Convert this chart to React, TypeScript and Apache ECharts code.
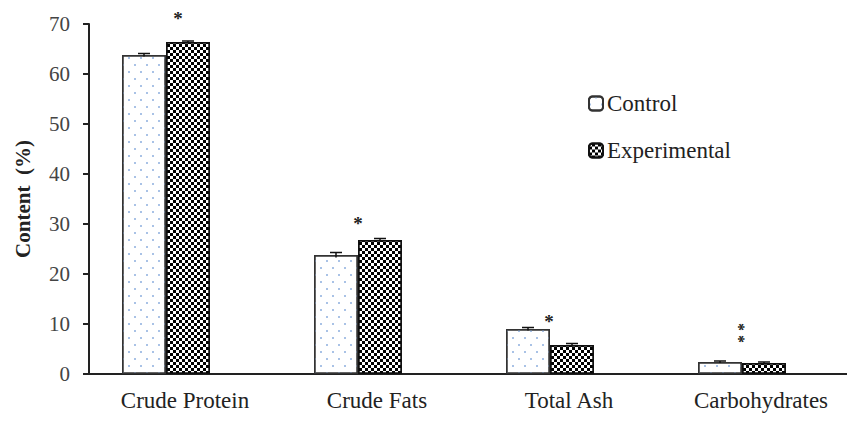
import React, { useEffect, useRef } from "react";
import * as echarts from "echarts";

const categories = ["Crude Protein", "Crude Fats", "Total Ash", "Carbohydrates"];
const controlValues = [63.8, 23.8, 9.0, 2.4];
const experimentalValues = [66.4, 26.8, 5.8, 2.2];
const controlErrors = [0.3, 0.5, 0.3, 0.2];
const experimentalErrors = [0.2, 0.3, 0.3, 0.2];
// significance marks: [category index, y value, text, x offset px, rotated]
const significance: [number, number, string, number, number][] = [
  [0, 71.2, "*", -7, 0],
  [1, 30.2, "*", -19, 0],
  [2, 10.6, "*", -20, 0],
  [3, 8.2, "* *", -18, 1],
];

const BAR_W = 44;

export default function App() {
  const ref = useRef<HTMLDivElement>(null);
  useEffect(() => {
    if (!ref.current) return;
    const chart = echarts.init(ref.current, null, { renderer: "svg" });
    const font = "'Liberation Serif', 'Times New Roman', serif";
    const errData: number[][] = [];
    controlValues.forEach((v, i) => errData.push([i, v, controlErrors[i], -1]));
    experimentalValues.forEach((v, i) => errData.push([i, v, experimentalErrors[i], 0]));
    chart.setOption({
      animation: false,
      grid: { left: 81, right: -2, top: 16, bottom: 47, outerBoundsMode: "none", containLabel: false },
      legend: {
        data: ["Control", "Experimental"],
        orient: "vertical",
        left: 575,
        top: 79,
        itemGap: 24,
        itemWidth: 14,
        itemHeight: 14,
        textStyle: { fontFamily: font, fontSize: 23, color: "#222", padding: [0, 0, 0, -1] },
      },
      xAxis: {
        type: "category",
        data: categories,
        axisLine: { lineStyle: { color: "#222", width: 2 } },
        axisTick: { show: false },
        axisLabel: { fontFamily: font, fontSize: 23, color: "#222", margin: 15 },
      },
      yAxis: {
        type: "value",
        min: 0,
        max: 70,
        interval: 10,
        name: "Content  (%)",
        nameLocation: "middle",
        nameGap: 56,
        nameTextStyle: { fontFamily: font, fontSize: 21, fontWeight: "bold", color: "#222" },
        splitLine: { show: false },
        axisLine: { show: true, lineStyle: { color: "#222", width: 2 } },
        axisTick: { show: true, inside: false, length: 6, lineStyle: { color: "#222", width: 2 } },
        axisLabel: { fontFamily: font, fontSize: 21, color: "#444", margin: 19 },
      },
      series: [
        {
          name: "Control",
          type: "bar",
          data: controlValues,
          barWidth: BAR_W,
          barGap: "0%",
          itemStyle: {
            color: "#ffffff",
            borderColor: "#333",
            borderWidth: 1.5,
            decal: {
              symbol: "rect",
              symbolSize: 1,
              color: "#a9c2e6",
              dashArrayX: [[2, 10], [0, 6, 2, 4]],
              dashArrayY: [2, 5],
            },
          },
        },
        {
          name: "Experimental",
          type: "bar",
          data: experimentalValues,
          barWidth: BAR_W,
          barGap: "0%",
          itemStyle: {
            color: "#ffffff",
            borderColor: "#111",
            borderWidth: 1.5,
            decal: {
              symbol: "rect",
              symbolSize: 1,
              color: "#000000",
              dashArrayX: [[3, 3], [0, 3, 3, 0]],
              dashArrayY: [3, 0],
            },
          },
        },
        {
          name: "hidden",
          type: "bar",
          data: [null, null, null, null],
          barWidth: 38,
          barGap: "0%",
        },
        {
          type: "custom",
          name: "errors",
          data: errData,
          clip: false,
          z: 5,
          renderItem: (params: any, api: any) => {
            const cat = api.value(0);
            const v = api.value(1);
            const e = api.value(2);
            const off = api.value(3);
            const top = api.coord([cat, v + e]);
            const bot = api.coord([cat, v - e]);
            const x = top[0] + 3 + off * BAR_W;
            return {
              type: "group",
              children: [
                { type: "line", shape: { x1: x, y1: top[1], x2: x, y2: bot[1] }, style: { stroke: "#111", lineWidth: 1.5 } },
                { type: "line", shape: { x1: x - 6, y1: top[1], x2: x + 6, y2: top[1] }, style: { stroke: "#111", lineWidth: 1.5 } },
              ],
            };
          },
        },
        {
          type: "custom",
          name: "sig",
          data: significance.map((s) => [s[0], s[1], s[3], s[4]]),
          clip: false,
          z: 6,
          renderItem: (params: any, api: any) => {
            const c = api.coord([api.value(0), api.value(1)]);
            const txt = significance[params.dataIndex][2];
            const rot = api.value(3) ? Math.PI / 2 : 0;
            return {
              type: "text",
              x: c[0] + api.value(2),
              y: c[1],
              rotation: rot,
              style: {
                text: txt,
                fontFamily: font,
                fontSize: rot ? 16 : 19,
                fontWeight: "bold",
                fill: "#222",
                align: "center",
                verticalAlign: "middle",
              },
            };
          },
        },
      ],
    });
    return () => chart.dispose();
  }, []);
  return <div ref={ref} style={{ width: 847, height: 413 }} />;
}
